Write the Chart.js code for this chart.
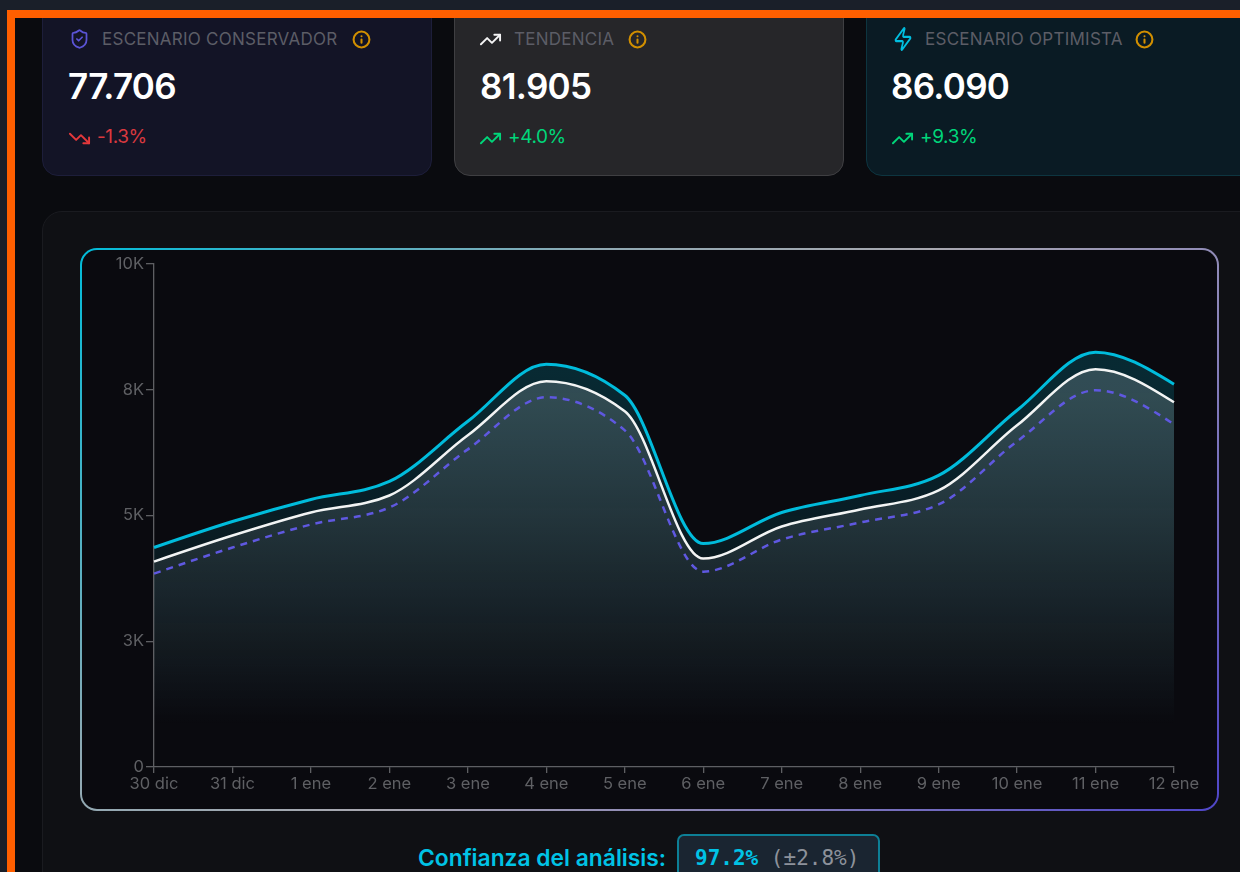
<!DOCTYPE html>
<html lang="es"><head><meta charset="utf-8">
<script src="https://cdn.jsdelivr.net/npm/chart.js@4"></script>
<style>
*{box-sizing:border-box}
html,body{margin:0;width:1240px;height:872px;overflow:hidden;background:#1a1f29;font-family:Inter,"Noto Sans",sans-serif}
#page{position:absolute;left:7px;top:10px;width:1240px;height:870px;background:#0a0b0f;border-left:8px solid #ff5f00;border-top:8px solid #ff5f00;overflow:hidden;filter:blur(.5px)}
#shift{position:absolute;left:7px;top:0;width:1300px;height:870px}
.card{position:absolute;top:-30px;height:188px;border-radius:16px;border:1px solid}
.c1{left:20px;width:390px;background:#131426;border-color:#1d1e3a}
.c2{left:432px;width:390px;background:#262629;border-color:#3f3f42}
.c3{left:844px;width:420px;background:#0a1b24;border-color:#0d3540}
.lab{position:absolute;font-size:17px;color:#5c5d66;letter-spacing:.25px;white-space:nowrap;line-height:20px}
.val{position:absolute;font-size:35px;font-weight:600;color:#fff;letter-spacing:-.7px;line-height:40px}
.chg{position:absolute;font-size:19px;letter-spacing:-.4px;line-height:24px}
svg.i{position:absolute;fill:none;stroke-width:2;stroke-linecap:round;stroke-linejoin:round}
svg.info{stroke-width:2.6}
#panel{position:absolute;left:20px;top:193px;width:1240px;height:700px;background:#0f1014;border:1px solid #1a1b20;border-radius:20px}
#frame{position:absolute;left:58px;top:230px;width:1139px;height:563px;border-radius:17px;padding:2px;background:linear-gradient(135deg,#00bcd9 0%,#8fa9b3 30%,#a8a8b0 50%,#8c86b8 70%,#4f46c8 100%)}
#inner{position:relative;width:100%;height:100%;border-radius:15px;background:#0a0a0f;overflow:hidden}
#wrap{position:absolute;left:0;top:0;width:1135px;height:559px}
#conf{position:absolute;left:396px;top:827px;font-size:22.8px;font-weight:600;color:#00c3e6;line-height:26px;white-space:nowrap}
#box{position:absolute;left:655px;top:816px;width:203px;height:60px;border:2px solid #0d7f96;border-radius:7px;background:#1a2531;font-family:"DejaVu Sans Mono",monospace;font-size:21px;padding:9px 0 0 16px;line-height:26px;white-space:nowrap;color:#8d929b}
#box b{color:#00c3e6}
</style></head><body>
<div id="page"><div id="shift">
<div class="card c1"></div><div class="card c2"></div><div class="card c3"></div>

<svg class="i" style="left:47px;top:10px" width="21" height="22" viewBox="0 0 24 24" stroke="#5b54d6"><path d="M20 13c0 5-3.5 7.5-7.66 8.95a1 1 0 0 1-.67-.01C7.5 20.5 4 18 4 13V6a1 1 0 0 1 1-1c2 0 4.5-1.2 6.24-2.72a1.17 1.17 0 0 1 1.52 0C14.51 3.81 17 5 19 5a1 1 0 0 1 1 1z"/><path d="m9 12 2 2 4-4"/></svg>
<div class="lab" style="left:80px;top:11px">ESCENARIO CONSERVADOR</div>
<svg class="i info" style="left:330px;top:12px" width="19" height="19" viewBox="0 0 24 24" stroke="#d18f00"><circle cx="12" cy="12" r="10"/><path d="M12 16v-4M12 8h.01"/></svg>
<div class="val" style="left:46px;top:48px">77.706</div>
<svg class="i" style="left:46px;top:109px" width="23" height="23" viewBox="0 0 24 24" stroke="#e5383b"><path d="M22 17 13.5 8.5l-5 5L2 7"/><path d="M16 17h6v-6"/></svg>
<div class="chg" style="left:75px;top:107px;color:#d8393f">-1.3%</div>

<svg class="i" style="left:457px;top:10px" width="23" height="23" viewBox="0 0 24 24" stroke="#f4f4f5"><path d="M22 7 13.5 15.5l-5-5L2 17"/><path d="M16 7h6v6"/></svg>
<div class="lab" style="left:492px;top:11px">TENDENCIA</div>
<svg class="i info" style="left:606px;top:12px" width="19" height="19" viewBox="0 0 24 24" stroke="#d18f00"><circle cx="12" cy="12" r="10"/><path d="M12 16v-4M12 8h.01"/></svg>
<div class="val" style="left:458px;top:48px">81.905</div>
<svg class="i" style="left:457px;top:109px" width="23" height="23" viewBox="0 0 24 24" stroke="#00d67a"><path d="M22 7 13.5 15.5l-5-5L2 17"/><path d="M16 7h6v6"/></svg>
<div class="chg" style="left:486px;top:107px;color:#00d67a">+4.0%</div>

<svg class="i" style="left:871px;top:8px" width="20" height="26" viewBox="0 0 24 24" preserveAspectRatio="none" stroke="#00bfe0"><path d="M4 14a1 1 0 0 1-.78-1.63l9.9-10.2a.5.5 0 0 1 .86.46l-1.92 6.02A1 1 0 0 0 13 10h7a1 1 0 0 1 .78 1.63l-9.9 10.2a.5.5 0 0 1-.86-.46l1.92-6.02A1 1 0 0 0 11 14z"/></svg>
<div class="lab" style="left:903px;top:11px">ESCENARIO OPTIMISTA</div>
<svg class="i info" style="left:1113px;top:12px" width="19" height="19" viewBox="0 0 24 24" stroke="#d18f00"><circle cx="12" cy="12" r="10"/><path d="M12 16v-4M12 8h.01"/></svg>
<div class="val" style="left:869px;top:48px">86.090</div>
<svg class="i" style="left:869px;top:109px" width="23" height="23" viewBox="0 0 24 24" stroke="#00d67a"><path d="M22 7 13.5 15.5l-5-5L2 17"/><path d="M16 7h6v6"/></svg>
<div class="chg" style="left:898px;top:107px;color:#00d67a">+9.3%</div>

<div id="panel"></div>
<div id="frame"><div id="inner"><div id="wrap"><canvas id="c"></canvas></div></div></div>
<div id="conf">Confianza del análisis:</div>
<div id="box"><b>97.2%</b> (±2.8%)</div>
</div></div>
<script>
const categories=['30 dic','31 dic','1 ene','2 ene','3 ene','4 ene','5 ene','6 ene','7 ene','8 ene','9 ene','10 ene','11 ene','12 ene'];
const optimista=[4363,4880,5319,5677,6873,8008,7390,4442,5060,5398,5797,7092,8247,7610];
const tendencia=[4084,4602,5060,5398,6594,7669,7072,4143,4781,5120,5498,6793,7908,7251];
const conservador=[3845,4363,4821,5159,6315,7351,6693,3884,4522,4861,5219,6474,7490,6813];
const yTicks=[0,2500,5000,7500,10000];
const yTickLabels=['0','3K','5K','8K','10K'];

function areaFill(rgb,alpha,values){
  return ctx=>{
    const {chart}=ctx;
    if(!chart.chartArea)return 'transparent';
    const y=chart.scales.y;
    const g=chart.ctx.createLinearGradient(0,y.getPixelForValue(Math.max(...values)),0,y.getPixelForValue(0));
    g.addColorStop(0.05,`rgba(${rgb},${alpha})`);
    g.addColorStop(0.9,`rgba(${rgb},0)`);
    return g;
  };
}
// Monotone-X tangents as the original chart's curve uses them (visible kinks at 3 ene, 5 ene).
const monotoneX={id:'monotoneX',beforeDatasetsDraw(chart){
  chart.getSortedVisibleDatasetMetas().forEach(meta=>{
    const line=meta.dataset,p=meta.data,n=p.length;
    line.updateControlPoints(chart.chartArea,'x');
    const s=[];
    for(let i=0;i<n-1;i++)s.push((p[i+1].y-p[i].y)/(p[i+1].x-p[i].x));
    const t=new Array(n).fill(0);
    for(let i=1;i<n-1;i++){
      const a=s[i-1],b=s[i];
      const sign=(Math.sign(a)+Math.sign(b));
      t[i]=sign*Math.min(Math.abs(a),Math.abs(b),Math.abs(a+b)/4);
    }
    t[0]=(3*s[0]-t[1])/2;
    t[n-1]=(3*s[n-2]-t[n-2])/2;
    for(let i=0;i<n-1;i++){
      const d=(p[i+1].x-p[i].x)/3;
      p[i].cp2x=p[i].x+d;p[i].cp2y=p[i].y+d*t[i];
      p[i+1].cp1x=p[i+1].x-d;p[i+1].cp1y=p[i+1].y-d*t[i+1];
    }
  });
}};
const line={pointRadius:0,pointHoverRadius:0,cubicInterpolationMode:'monotone',borderCapStyle:'butt'};
new Chart(document.getElementById('c'),{
  type:'line',
  plugins:[monotoneX],
  data:{labels:categories,datasets:[
    {label:'Escenario conservador',data:conservador,borderColor:'#5f58e0',borderWidth:2.5,borderDash:[7,6],fill:false,order:1,...line},
    {label:'Tendencia',data:tendencia,borderColor:'#f2f4f4',borderWidth:2.5,fill:'origin',backgroundColor:areaFill('255,255,255',.17,tendencia),order:2,...line},
    {label:'Escenario optimista',data:optimista,borderColor:'#00bcdc',borderWidth:3,fill:'origin',backgroundColor:areaFill('0,200,230',.17,optimista),order:3,...line}
  ]},
  options:{
    responsive:true,maintainAspectRatio:false,animation:false,
    layout:{padding:{top:14,right:43,left:0,bottom:0}},
    plugins:{legend:{display:false},tooltip:{enabled:false}},
    scales:{
      x:{type:'category',offset:false,
        grid:{display:true,drawOnChartArea:false,drawTicks:true,tickLength:6,color:'#5e5f63',lineWidth:1.3},
        border:{color:'#5e5f63',width:1.3},
        ticks:{color:'#5f6064',font:{family:'Inter',size:16.5},padding:1,maxRotation:0,autoSkip:false,align:'center'},
        afterFit(s){s.height=42}},
      y:{min:0,max:10000,
        afterBuildTicks(s){s.ticks=yTicks.map(v=>({value:v}))},
        grid:{display:true,drawOnChartArea:false,drawTicks:true,tickLength:8,color:'#5e5f63',lineWidth:1.3},
        border:{color:'#5e5f63',width:1.3},
        ticks:{color:'#5f6064',font:{family:'Inter',size:16.5},padding:2,callback:(v)=>yTickLabels[yTicks.indexOf(v)]},
        afterFit(s){s.width=72}}
    }
  }
});
</script>
</body></html>
